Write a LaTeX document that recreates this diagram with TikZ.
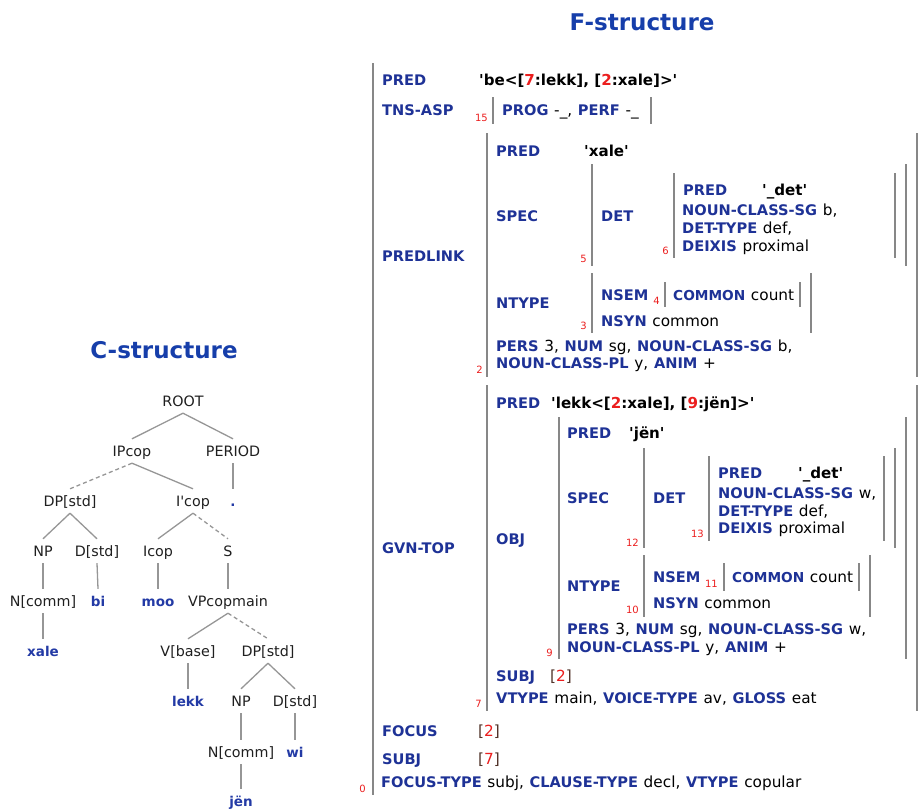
\documentclass[tikz,border=0pt]{standalone}
\usepackage{fontspec}
\setmainfont{DejaVu Sans}

\definecolor{labblue}{RGB}{30,50,150}
\definecolor{titleblue}{RGB}{22,62,170}
\definecolor{termblue}{RGB}{35,58,165}
\definecolor{idxred}{RGB}{235,30,30}
\definecolor{bargray}{RGB}{135,135,135}
\definecolor{treegray}{RGB}{150,150,150}
\definecolor{bracketdark}{RGB}{80,50,40}

% attribute name, red index inside a value, straight quote, reference to a numbered f-structure
\newcommand\lab[1]{{\bfseries\fontsize{14.6}{17}\selectfont\color{labblue}#1}}
\newcommand\labn[1]{{\bfseries\fontsize{13.7}{17}\selectfont\color{labblue}#1}}
\newcommand\rd[1]{{\color{idxred}#1}}
\newcommand\q{\textquotesingle}
\newcommand\refto[1]{{\color{bracketdark}[}\rd{#1}{\color{bracketdark}]}}
% type used in attribute-value lines
\newcommand\fsfont{\fontsize{15.3}{17}\selectfont\spaceskip=5.7pt\relax}
\newcommand\fvfont{\bfseries\fontsize{15.1}{17}\selectfont}

\begin{document}
\begin{tikzpicture}[x=1pt,y=-1pt,
  title/.style={font=\bfseries\fontsize{23}{26}\selectfont, text=titleblue, inner sep=0pt},
  tnode/.style={font=\fontsize{14.3}{17}\selectfont, text=black!88, inner sep=0pt,
                minimum height=24pt, text height=10.5pt, text depth=0pt},
  tword/.style={tnode, font=\bfseries\fontsize{13.5}{16}\selectfont, text=termblue},
  tedge/.style={draw=treegray, line width=1.3pt},
  tdash/.style={tedge, dash pattern=on 4pt off 3pt},
  fs/.style={font=\fsfont, anchor=base west, inner sep=0pt},
  fv/.style={fs, font=\fvfont},
  idx/.style={font=\fontsize{10}{12}\selectfont, text=idxred, anchor=base east, inner sep=0pt},
  fbar/.style={draw=bargray, line width=2.6pt}]
\useasboundingbox (0,0) rectangle (918,809);

% ---------- titles ----------
\node[title] (ctitle) at (164,350) {C-structure};
\node[title] (ftitle) at (642,22) {F-structure};

% ---------- C-structure tree ----------
\node[tnode] (root)   at (183,401) {ROOT};
\node[tnode] (ipcop)  at (132,451) {IPcop};
\node[tnode] (period) at (233,451) {PERIOD};
\node[tnode] (dp1)    at (70,501)  {DP[std]};
\node[tnode] (ibar)   at (193,501) {I\q cop};
\node[tword] (dot)    at (233,501) {.};
\node[tnode] (np1)    at (43,551)  {NP};
\node[tnode] (d1)     at (97,551)  {D[std]};
\node[tnode] (icop)   at (158,551) {Icop};
\node[tnode] (s)      at (228,551) {S};
\node[tnode] (nc1)    at (43,601)  {N[comm]};
\node[tword] (bi)     at (98,601)  {bi};
\node[tword] (moo)    at (158,601) {moo};
\node[tnode] (vp)     at (228,601) {VPcopmain};
\node[tword] (xale)   at (43,651)  {xale};
\node[tnode] (vbase)  at (188,651) {V[base]};
\node[tnode] (dp2)    at (268,651) {DP[std]};
\node[tword] (lekk)   at (188,701) {lekk};
\node[tnode] (np2)    at (241,701) {NP};
\node[tnode] (d2)     at (295,701) {D[std]};
\node[tnode] (nc2)    at (241,752) {N[comm]};
\node[tword] (wi)     at (295,752) {wi};
\node[tword] (jen)    at (241,801) {jën};

\draw[tedge] (root.south) -- (ipcop.north);
\draw[tedge] (root.south) -- (period.north);
\draw[tdash] (ipcop.south) -- (dp1.north);
\draw[tedge] (ipcop.south) -- (ibar.north);
\draw[tedge] (period.south) -- (dot.north);
\draw[tedge] (dp1.south) -- (np1.north);
\draw[tedge] (dp1.south) -- (d1.north);
\draw[tedge] (ibar.south) -- (icop.north);
\draw[tdash] (ibar.south) -- (s.north);
\draw[tedge] (np1.south) -- (nc1.north);
\draw[tedge] (d1.south) -- (bi.north);
\draw[tedge] (icop.south) -- (moo.north);
\draw[tedge] (s.south) -- (vp.north);
\draw[tedge] (nc1.south) -- (xale.north);
\draw[tedge] (vp.south) -- (vbase.north);
\draw[tdash] (vp.south) -- (dp2.north);
\draw[tedge] (vbase.south) -- (lekk.north);
\draw[tedge] (dp2.south) -- (np2.north);
\draw[tedge] (dp2.south) -- (d2.north);
\draw[tedge] (np2.south) -- (nc2.north);
\draw[tedge] (d2.south) -- (wi.north);
\draw[tedge] (nc2.south) -- (jen.north);

% ---------- F-structure: bars ----------
% outer f-structure
\draw[fbar] (373,63) -- (373,795);
% TNS-ASP
\draw[fbar] (493,97) -- (493,124);  \draw[fbar] (651,97) -- (651,124);
% PREDLINK
\draw[fbar] (487,133) -- (487,377); \draw[fbar] (917,133) -- (917,377);
\draw[fbar] (592,164) -- (592,266); \draw[fbar] (906,164) -- (906,266);
\draw[fbar] (674,173) -- (674,258); \draw[fbar] (895,173) -- (895,258);
\draw[fbar] (592,273) -- (592,333); \draw[fbar] (811,273) -- (811,333);
\draw[fbar] (665,282) -- (665,307); \draw[fbar] (800,282) -- (800,307);
% GVN-TOP
\draw[fbar] (487,385) -- (487,711); \draw[fbar] (917,385) -- (917,711);
\draw[fbar] (559,417) -- (559,659); \draw[fbar] (906,417) -- (906,659);
\draw[fbar] (644,448) -- (644,548); \draw[fbar] (895,448) -- (895,548);
\draw[fbar] (709,456) -- (709,541); \draw[fbar] (884,456) -- (884,541);
\draw[fbar] (644,555) -- (644,617); \draw[fbar] (870,555) -- (870,617);
\draw[fbar] (724,563) -- (724,591); \draw[fbar] (859,563) -- (859,591);

% ---------- F-structure: outer attributes ----------
\node[fs] (fpred) at (382,85) {\lab{PRED}};
\node[fv] (fpredv) at (479,85) {\q be<[\rd{7}:lekk], [\rd{2}:xale]>\q};
\node[fs] (ftns) at (382,115) {\lab{TNS-ASP}};
\node[idx] (i15) at (488,121) {15};
\node[fs] (ftnsv) at (502,115) {\lab{PROG} -\_, \lab{PERF} -\_};

% PREDLINK
\node[fs] (fpl) at (382,261) {\lab{PREDLINK}};
\node[idx] (i2) at (483,373) {2};
\node[fs] (plpred) at (496,156) {\lab{PRED}};
\node[fv] (plpredv) at (584,156) {\q xale\q};
\node[fs] (plspec) at (496,221) {\lab{SPEC}};
\node[idx] (i5) at (587,262) {5};
\node[fs] (pldet) at (601,221) {\lab{DET}};
\node[idx] (i6) at (669,254) {6};
\node[fs] (dapred) at (683,195) {\lab{PRED}};
\node[fv] (dapredv) at (762,195) {\q\_det\q};
\node[fs] (dancs) at (682,215) {\lab{NOUN-CLASS-SG} b,};
\node[fs] (dadt) at (682,233) {\lab{DET-TYPE} def,};
\node[fs] (dadx) at (682,251) {\lab{DEIXIS} proximal};
\node[fs] (plntype) at (496,308) {\lab{NTYPE}};
\node[idx] (i3) at (587,329) {3};
\node[fs] (plnsem) at (601,300) {\lab{NSEM}};
\node[idx] (i4) at (660,304) {4};
\node[fs] (plcommon) at (673,300) {\labn{COMMON} count};
\node[fs] (plnsyn) at (601,326) {\lab{NSYN} common};
\node[fs] (plpers) at (496,351) {\lab{PERS} 3, \lab{NUM} sg, \lab{NOUN-CLASS-SG} b,};
\node[fs] (plncp) at (496,368) {\lab{NOUN-CLASS-PL} y, \lab{ANIM} +};

% GVN-TOP
\node[fs] (fgvn) at (382,553) {\lab{GVN-TOP}};
\node[idx] (i7) at (482,707) {7};
\node[fs] (gpred) at (496,408) {\lab{PRED}};
\node[fv] (gpredv) at (551,408) {\q lekk<[\rd{2}:xale], [\rd{9}:jën]>\q};
\node[fs] (gobj) at (496,544) {\lab{OBJ}};
\node[idx] (i9) at (553,656) {9};
\node[fs] (opred) at (567,438) {\lab{PRED}};
\node[fv] (opredv) at (629,438) {\q jën\q};
\node[fs] (ospec) at (567,503) {\lab{SPEC}};
\node[idx] (i12) at (639,546) {12};
\node[fs] (odet) at (653,503) {\lab{DET}};
\node[idx] (i13) at (704,537) {13};
\node[fs] (dbpred) at (718,478) {\lab{PRED}};
\node[fv] (dbpredv) at (798,478) {\q\_det\q};
\node[fs] (dbncs) at (718,498) {\lab{NOUN-CLASS-SG} w,};
\node[fs] (dbdt) at (718,516) {\lab{DET-TYPE} def,};
\node[fs] (dbdx) at (718,533) {\lab{DEIXIS} proximal};
\node[fs] (ontype) at (567,591) {\lab{NTYPE}};
\node[idx] (i10) at (639,613) {10};
\node[fs] (onsem) at (653,582) {\lab{NSEM}};
\node[idx] (i11) at (718,587) {11};
\node[fs] (ocommon) at (732,582) {\labn{COMMON} count};
\node[fs] (onsyn) at (653,608) {\lab{NSYN} common};
\node[fs] (opers) at (567,634) {\lab{PERS} 3, \lab{NUM} sg, \lab{NOUN-CLASS-SG} w,};
\node[fs] (oncp) at (567,652) {\lab{NOUN-CLASS-PL} y, \lab{ANIM} +};
\node[fs] (gsubj) at (496,681) {\lab{SUBJ}};
\node[fs] (gsubjv) at (550,681) {\refto{2}};
\node[fs] (gvtype) at (496,703) {\lab{VTYPE} main, \lab{VOICE-TYPE} av, \lab{GLOSS} eat};

% remaining outer attributes
\node[fs] (ffocus) at (382,736) {\lab{FOCUS}};
\node[fs] (ffocusv) at (478,736) {\refto{2}};
\node[fs] (fsubj) at (382,764) {\lab{SUBJ}};
\node[fs] (fsubjv) at (478,764) {\refto{7}};
\node[fs] (fft) at (381,787) {\lab{FOCUS-TYPE} subj, \lab{CLAUSE-TYPE} decl, \lab{VTYPE} copular};
\node[idx] (i0) at (366,792) {0};
\end{tikzpicture}
\end{document}
